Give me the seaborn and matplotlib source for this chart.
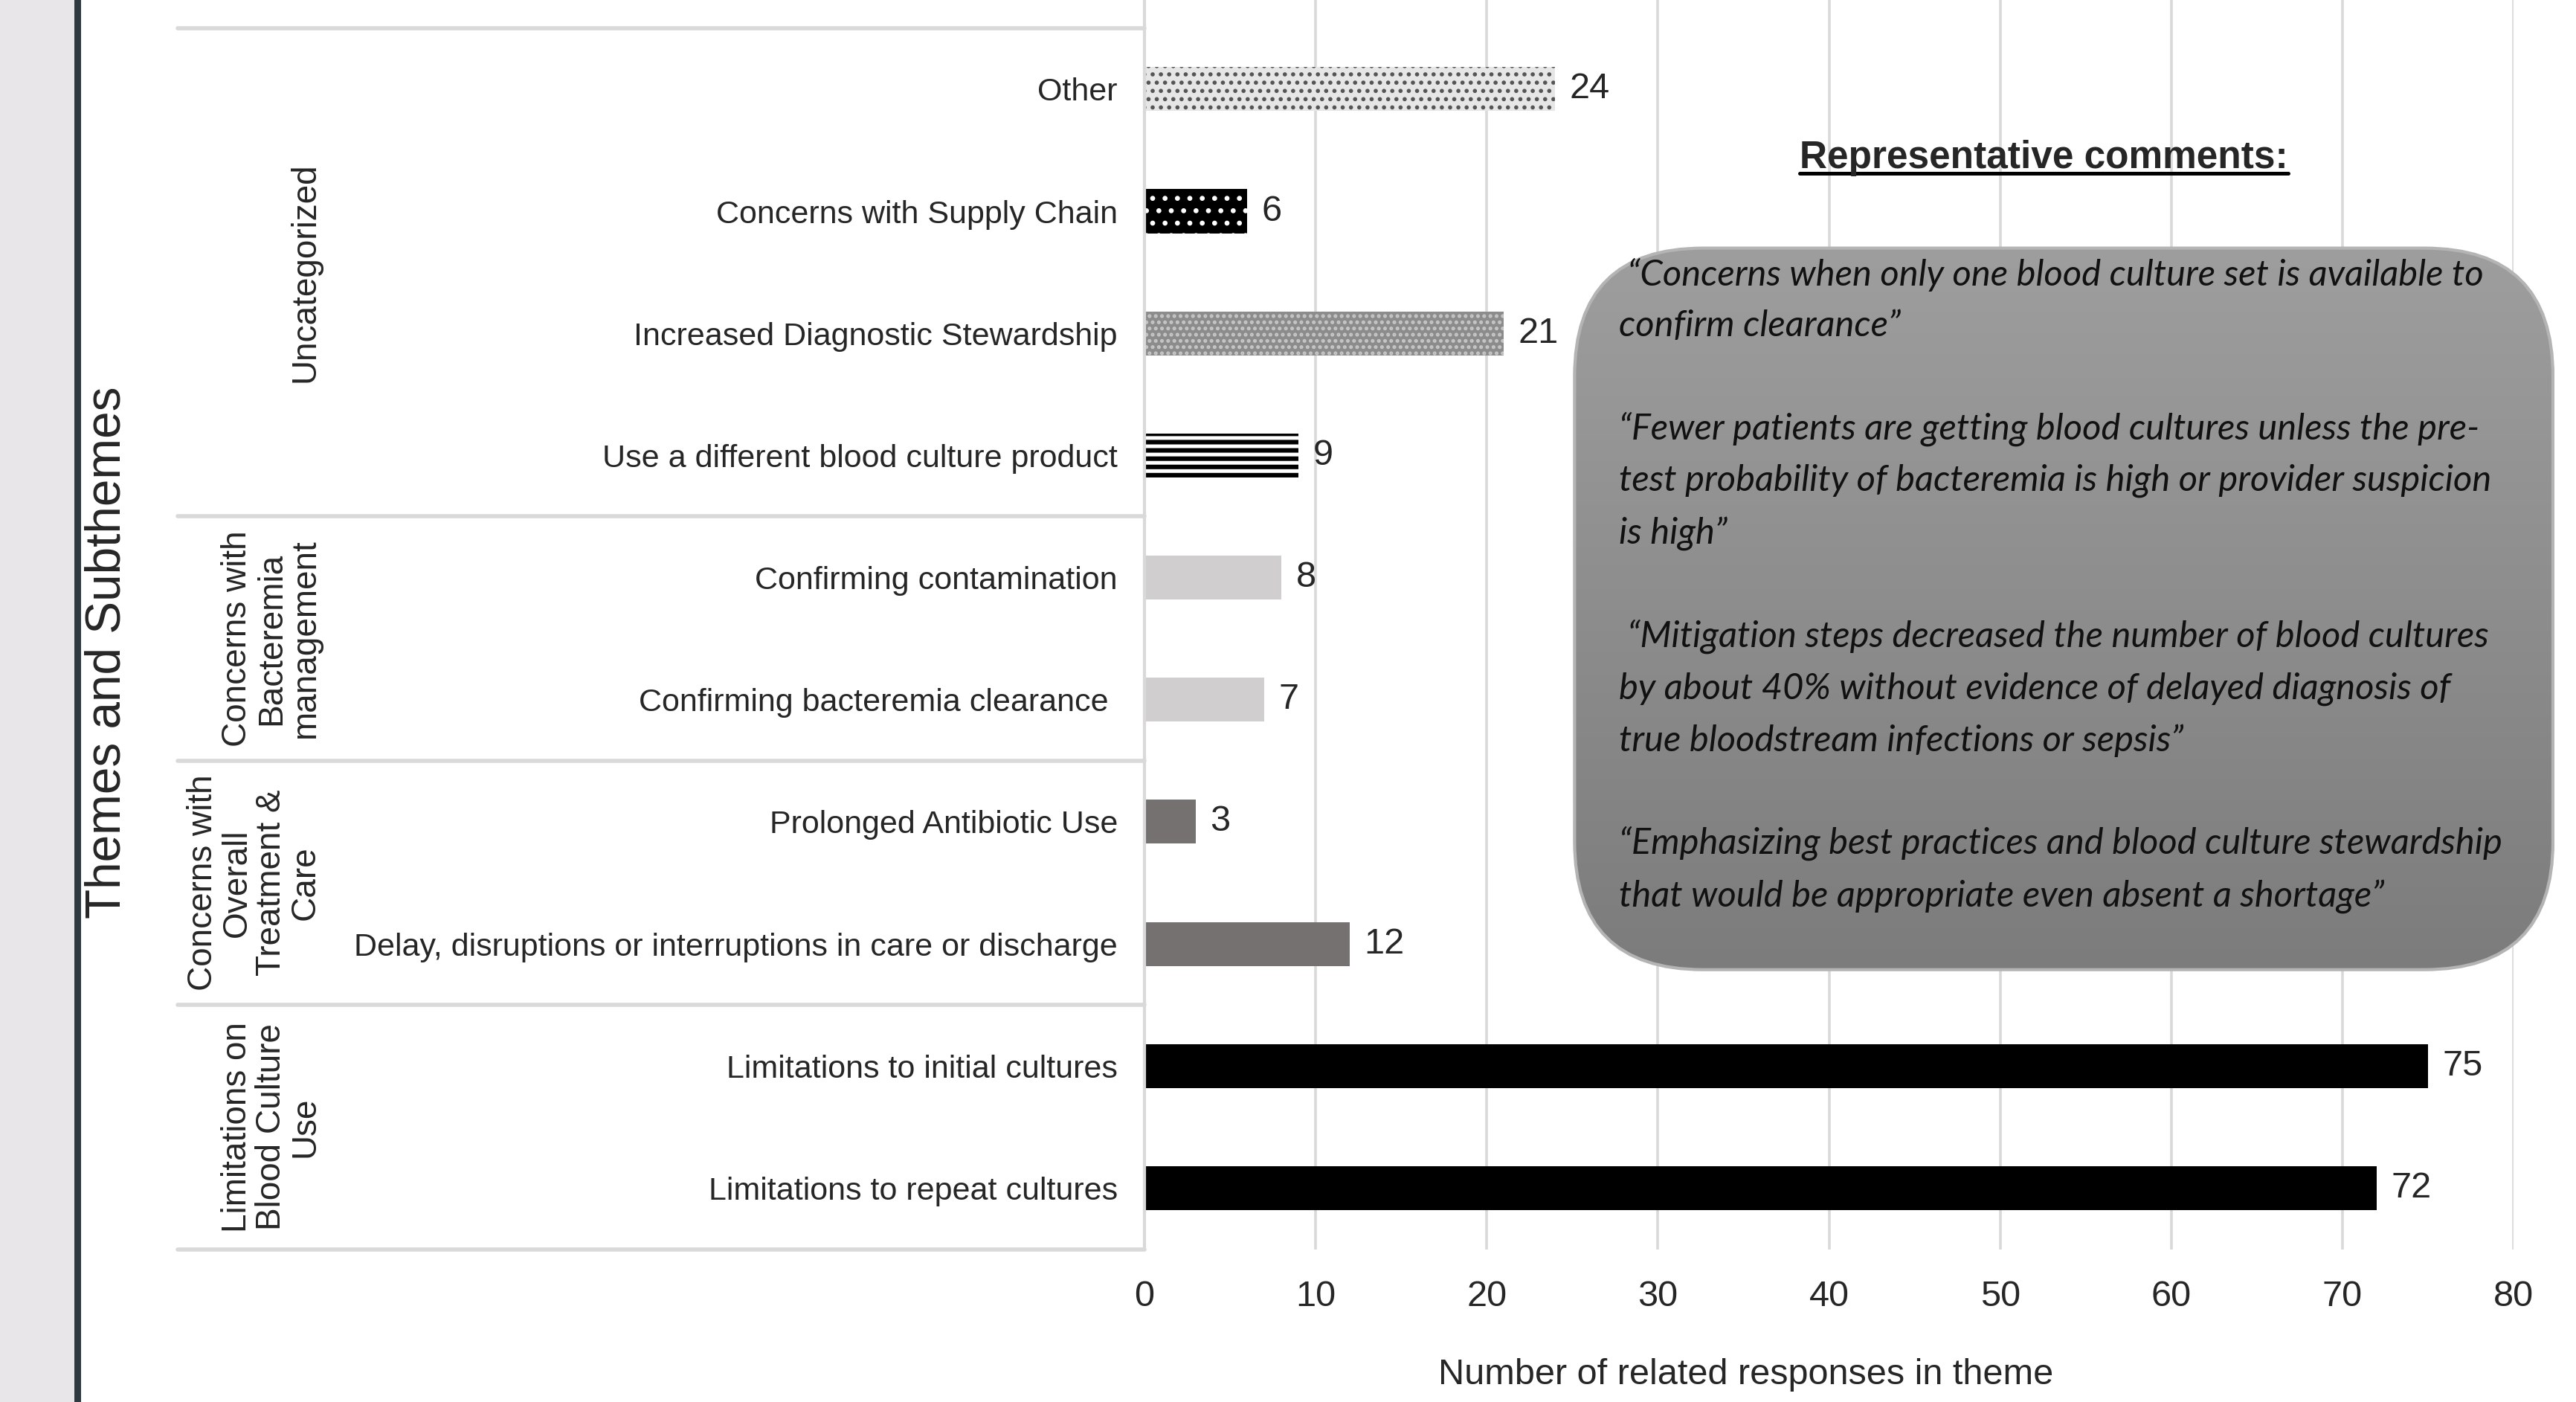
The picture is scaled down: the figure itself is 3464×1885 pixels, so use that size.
import numpy as np
import pandas as pd
import matplotlib
matplotlib.use("Agg")
import matplotlib.pyplot as plt
import seaborn as sns
from matplotlib.patches import FancyBboxPatch, Rectangle
from matplotlib.colors import LinearSegmentedColormap
from matplotlib.lines import Line2D


# DADOS

subthemes = [
    "Other",
    "Concerns with Supply Chain",
    "Increased Diagnostic Stewardship",
    "Use a different blood culture product",
    "Confirming contamination",
    "Confirming bacteremia clearance ",
    "Prolonged Antibiotic Use",
    "Delay, disruptions or interruptions in care or discharge",
    "Limitations to initial cultures",
    "Limitations to repeat cultures",
]

counts = [24, 6, 21, 9, 8, 7, 3, 12, 75, 72]

themes = [
    "Uncategorized",
    "Concerns with\nBacteremia\nmanagement",
    "Concerns with\nOverall\nTreatment &\nCare",
    "Limitations on\nBlood Culture\nUse",
]

# número de subtemas em cada tema (de cima para baixo)
theme_sizes = [4, 2, 2, 2]

bar_colors = [
    "#e6e6e6", "#000000", "#8c8c8c", "#ffffff",
    "#d0cece", "#d0cece", "#767171", "#767171",
    "#000000", "#000000",
]

hatches = ["...", "..", "....", "---", "", "", "", "", "", ""]
hatch_colors = [
    "#555555", "#ffffff", "#c8c8c8", "#000000",
    None, None, None, None, None, None,
]

comments = [
    " \u201cConcerns when only one blood culture set is available to\nconfirm clearance\u201d",
    "\u201cFewer patients are getting blood cultures unless the pre-\ntest probability of bacteremia is high or provider suspicion\nis high\u201d",
    " \u201cMitigation steps decreased the number of blood cultures\nby about 40% without evidence of delayed diagnosis of\ntrue bloodstream infections or sepsis\u201d",
    "\u201cEmphasizing best practices and blood culture stewardship\nthat would be appropriate even absent a shortage\u201d",
]

x_ticks = [0, 10, 20, 30, 40, 50, 60, 70, 80]


# ESTILO

sns.set_style("white")
plt.rcParams["font.family"] = ["Liberation Sans", "DejaVu Sans"]
plt.rcParams["hatch.linewidth"] = 1.2

REGULAR = ["Liberation Sans", "DejaVu Sans"]
GRID = "#d9d9d9"

fig = plt.figure(figsize=(17.32, 9.425), dpi=200)
fig.patch.set_facecolor("white")

# faixa cinza à esquerda
fig.patches.append(Rectangle((0, 0), 0.0288, 1, transform=fig.transFigure,
                             facecolor="#e8e6e8", edgecolor="none", zorder=0))
fig.patches.append(Rectangle((0.0288, 0), 0.0027, 1, transform=fig.transFigure,
                             facecolor="#2f3940", edgecolor="none", zorder=0))

ax = fig.add_axes([0.4443, 0.109, 0.5315, 0.891])


# GRÁFICO

df = pd.DataFrame({"subtheme": subthemes, "count": counts})

sns.barplot(
    data=df,
    x="count",
    y="subtheme",
    hue="subtheme",
    palette=bar_colors,
    legend=False,
    saturation=1,
    width=0.36,
    orient="h",
    ax=ax,
)

for i, cont in enumerate(ax.containers):
    for p in cont.patches:
        p.set_linewidth(0)
        if hatches[i]:
            p.set_hatch(hatches[i])
            p.set_edgecolor(hatch_colors[i])
            if hatches[i].startswith("-") and hasattr(p, "set_hatch_linewidth"):
                p.set_hatch_linewidth(2.2)
    ax.bar_label(cont, padding=7, fontsize=17.5)

ax.set_xlim(0, 80)
ax.set_ylim(9.5, -0.73)
ax.set_xticks(x_ticks)
ax.tick_params(axis="x", length=0, pad=15, labelsize=17.5)
ax.tick_params(axis="y", length=0, pad=13, labelsize=15.5)
ax.grid(axis="x", color=GRID, linewidth=1.3)
ax.set_axisbelow(True)

for s in ["top", "right", "bottom"]:
    ax.spines[s].set_visible(False)
ax.spines["left"].set_color(GRID)
ax.spines["left"].set_linewidth(1.5)

ax.set_ylabel("")
ax.set_xlabel("Number of related responses in theme", fontsize=17.5)
ax.xaxis.set_label_coords(0.439, -0.087)


# TABELA DE TEMAS

trans = ax.get_yaxis_transform()
edges = np.concatenate([[0], np.cumsum(theme_sizes)]) - 0.5
for b in edges:
    ax.plot([-0.706, 0], [b, b], transform=trans, clip_on=False,
            color=GRID, linewidth=2)

for k, name in enumerate(themes):
    mid = (edges[k] + edges[k + 1]) / 2
    ax.text(-0.601, mid, name, transform=trans, rotation=90,
            ha="right", va="center", multialignment="center",
            fontsize=16.5, family=REGULAR, linespacing=1.05)

fig.text(0.0416, 0.5346, "Themes and Subthemes", rotation=90,
         ha="center", va="center", fontsize=23.7, family=REGULAR)


# CAIXA DE COMENTÁRIOS

box_ax = fig.add_axes([0.6106, 0.3072, 0.3811, 0.517])
box_ax.set_xlim(0, 596)
box_ax.set_ylim(0, 441)
box_ax.axis("off")

gray_cmap = LinearSegmentedColormap.from_list("box", ["#7c7c7c", "#9e9e9e"])
grad = np.linspace(0, 1, 256).reshape(-1, 1)
img = box_ax.imshow(grad, extent=[0, 596, 0, 441], origin="lower",
                    aspect="auto", cmap=gray_cmap)
shape = FancyBboxPatch((1, 1), 594, 439,
                       boxstyle="round,pad=0,rounding_size=78",
                       facecolor="none", edgecolor="#b4b4b4", linewidth=1.5)
box_ax.add_patch(shape)
img.set_clip_path(shape)

box_ax.text(28, 434, "\n\n".join(comments), ha="left", va="top",
            fontsize=17.6, family=["Lato", "DejaVu Sans"], style="italic",
            color="#111111", linespacing=1.67)

title = fig.text(0.7935, 0.8875, "Representative comments:",
                 ha="center", va="center", fontsize=18.5,
                 fontweight="bold", family=REGULAR)

fig.canvas.draw()
bb = title.get_window_extent().transformed(fig.transFigure.inverted())
fig.lines.append(Line2D([bb.x0, bb.x1], [bb.y0 + 0.002, bb.y0 + 0.002],
                        transform=fig.transFigure, color="black", linewidth=1.8))

fig.savefig("out.png", dpi=200)
